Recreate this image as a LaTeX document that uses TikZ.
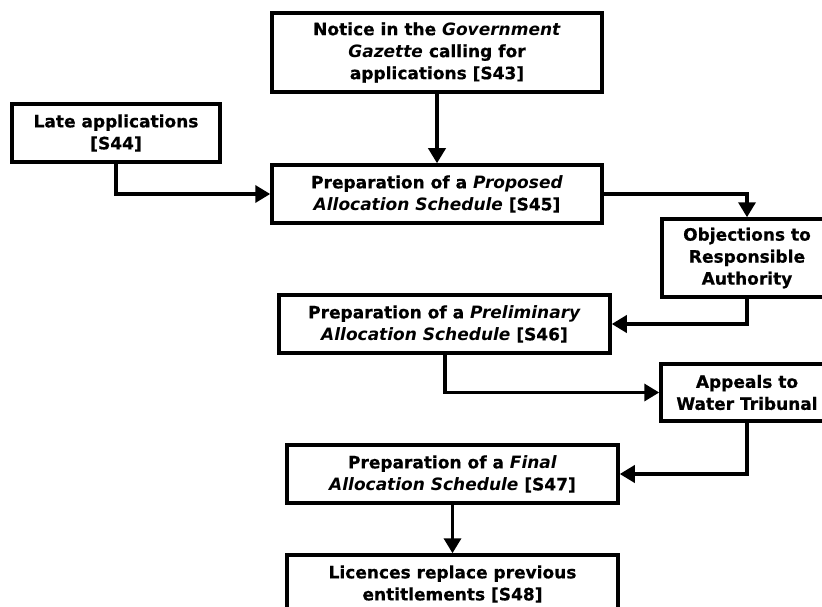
\documentclass[tikz,border=0pt]{standalone}
\usepackage{fontspec}
\setmainfont{DejaVu Sans}[BoldFeatures={FakeBold=0.6}]
\usetikzlibrary{arrows.meta}
\begin{document}
\begin{tikzpicture}[x=1pt,y=1pt,
  box/.style={draw,line width=3.5pt,align=center,inner sep=0pt,
    font=\bfseries\fontsize{17}{22}\selectfont},
  conn/.style={line width=3.5pt,-{Triangle[length=15pt,width=17pt]}}]
\useasboundingbox (0,0) rectangle (822,-607);
\clip (0,0) rectangle (822,-607);
\node[box,minimum width=330,minimum height=79] (notice) at (437,-52.5)
  {Notice in the \emph{Government}\\\emph{Gazette} calling for\\applications [S43]};
\node[box,minimum width=208,minimum height=58] (late) at (116,-133)
  {Late applications\\{}[S44]};
\node[box,minimum width=330,minimum height=58] (proposed) at (437,-194)
  {Preparation of a \emph{Proposed}\\\emph{Allocation Schedule} [S45]};
\node[box,minimum width=170,minimum height=78] (obj) at (747,-258)
  {Objections to\\Responsible\\Authority};
\node[box,minimum width=331,minimum height=58] (prelim) at (444.5,-324)
  {Preparation of a \emph{Preliminary}\\\emph{Allocation Schedule} [S46]};
\node[box,minimum width=172,minimum height=57] (appeals) at (747,-392.5)
  {Appeals to\\Water Tribunal};
\node[box,minimum width=331,minimum height=58] (final) at (452.5,-474)
  {Preparation of a \emph{Final}\\\emph{Allocation Schedule} [S47]};
\node[box,minimum width=331,minimum height=58] (lic) at (452.5,-584)
  {Licences replace previous\\entitlements [S48]};
\draw[conn] (notice.south) -- (proposed.north);
\draw[conn] (late.south) |- (proposed.west);
\draw[conn] (proposed.east) -| (obj.north);
\draw[conn] (obj.south) |- (prelim.east);
\draw[conn] ([xshift=0.5pt]prelim.south) |- (appeals.west);
\draw[conn] (appeals.south) |- (final.east);
\draw[conn] (final.south) -- (lic.north);
\end{tikzpicture}
\end{document}
